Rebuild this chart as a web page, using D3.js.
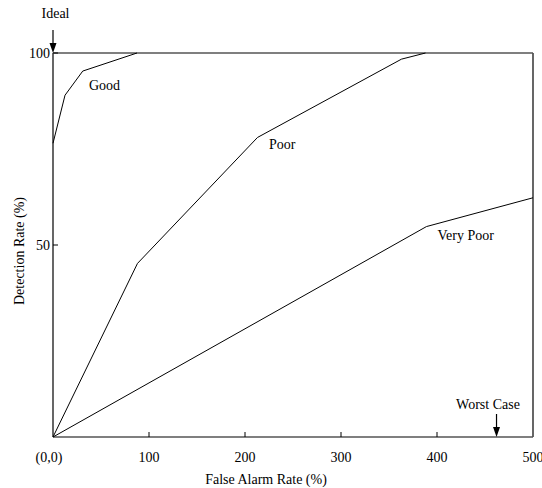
<!DOCTYPE html>
<html>
<head>
<meta charset="UTF-8">
<title>Detection vs False Alarm</title>
<script src="https://d3js.org/d3.v7.min.js"></script>
<style>
 body { margin: 0; background: #fff; }
 text { font-family: "Liberation Serif", "Times New Roman", serif; font-size: 14px; fill: #000; }
</style>
</head>
<body>
<script>
// values: [false alarm %, detection %]
var good = [[0, 76.5], [12.5, 89], [31, 95.3], [87.5, 100]];
var poor = [[0, 0], [88, 45.2], [213, 78], [363, 98.4], [388, 100]];
var veryPoor = [[0, 0], [389, 54.8], [500, 62.3]];
var xTicks = [0, 100, 200, 300, 400, 500];
var xTickLabels = ["(0,0)", "100", "200", "300", "400", "500"];
var yTicks = [50, 100];
var curveLabels = [
  {name: "Good", x: 37.5, y: 90.4},
  {name: "Poor", x: 225, y: 75},
  {name: "Very Poor", x: 400.5, y: 51.3}
];

var width = 542, height = 488;
var svg = d3.select("body").append("svg")
  .attr("width", width)
  .attr("height", height);

var x = d3.scaleLinear().domain([0, 500]).range([53, 533]);
var y = d3.scaleLinear().domain([0, 100]).range([437, 53]);

// frame: left/right thin black, top/bottom grey
svg.append("line").attr("x1", x(0)).attr("x2", x(0)).attr("y1", y(100)).attr("y2", y(0))
  .attr("stroke", "#000").attr("stroke-width", 1.2);
svg.append("line").attr("x1", x(500)).attr("x2", x(500)).attr("y1", y(100)).attr("y2", y(0))
  .attr("stroke", "#000").attr("stroke-width", 1.2);
svg.append("line").attr("x1", x(0)).attr("x2", x(500)).attr("y1", y(100)).attr("y2", y(100))
  .attr("stroke", "#555").attr("stroke-width", 1.6);
svg.append("line").attr("x1", x(0)).attr("x2", x(500)).attr("y1", y(0)).attr("y2", y(0))
  .attr("stroke", "#555").attr("stroke-width", 1.6);

// x ticks (inward) and labels
svg.selectAll(".xt").data(xTicks.slice(1, 5)).enter().append("line")
  .attr("x1", function(d) { return x(d); }).attr("x2", function(d) { return x(d); })
  .attr("y1", y(0)).attr("y2", y(0) - 5)
  .attr("stroke", "#000");
svg.selectAll(".xl").data(xTicks).enter().append("text")
  .attr("x", function(d, i) { return i == 0 ? x(d) - 4 : x(d); })
  .attr("y", y(0) + 25)
  .attr("text-anchor", "middle")
  .text(function(d, i) { return xTickLabels[i]; });

// y ticks
svg.selectAll(".yt").data(yTicks).enter().append("line")
  .attr("x1", x(0)).attr("x2", x(0) + 5)
  .attr("y1", function(d) { return y(d); }).attr("y2", function(d) { return y(d); })
  .attr("stroke", "#000");
svg.selectAll(".yl").data(yTicks).enter().append("text")
  .attr("x", x(0) - 3)
  .attr("y", function(d) { return y(d) + 5; })
  .attr("text-anchor", "end")
  .text(function(d) { return d; });

// axis titles
svg.append("text").attr("x", 266).attr("y", 484).attr("text-anchor", "middle")
  .text("False Alarm Rate (%)");
svg.append("text").attr("transform", "translate(24,251) rotate(-90)").attr("text-anchor", "middle")
  .text("Detection Rate (%)");

// curves
var line = d3.line().x(function(d) { return x(d[0]); }).y(function(d) { return y(d[1]); });
[good, poor, veryPoor].forEach(function(s) {
  svg.append("path").attr("d", line(s))
    .attr("fill", "none").attr("stroke", "#000").attr("stroke-width", 1);
});

svg.selectAll(".cl").data(curveLabels).enter().append("text")
  .attr("x", function(d) { return x(d.x); })
  .attr("y", function(d) { return y(d.y); })
  .text(function(d) { return d.name; });

// arrows pointing down onto the axes
function arrow(px, top, tip) {
  svg.append("line").attr("x1", px).attr("x2", px).attr("y1", top).attr("y2", tip - 8)
    .attr("stroke", "#000").attr("stroke-width", 1.2);
  svg.append("path")
    .attr("d", "M" + (px - 3.5) + "," + (tip - 10) + " L" + (px + 3.5) + "," + (tip - 10) + " L" + px + "," + tip + " Z")
    .attr("fill", "#000");
}
arrow(x(0), 30, y(100));
svg.append("text").attr("x", 55.5).attr("y", 18).attr("text-anchor", "middle").text("Ideal");

arrow(x(462), 414, y(0));
svg.append("text").attr("x", 488).attr("y", 409).attr("text-anchor", "middle").text("Worst Case");
</script>
</body>
</html>
